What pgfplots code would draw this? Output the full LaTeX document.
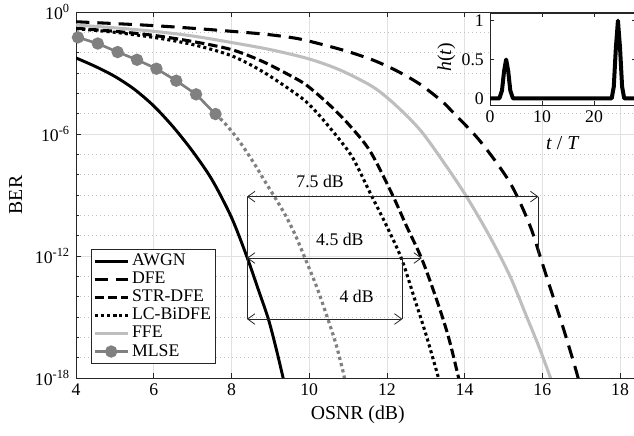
\documentclass[border=0pt]{standalone}
\usepackage{pgfplots}
\pgfplotsset{compat=1.18}
\usepackage{fontspec}
\setmainfont{Liberation Serif}
\usetikzlibrary{arrows.meta}

\definecolor{axgray}{RGB}{38,38,38}
\definecolor{gridgray}{RGB}{225,225,225}
\definecolor{mingray}{RGB}{195,195,195}
\definecolor{mlsegray}{RGB}{128,128,128}
\definecolor{ffegray}{RGB}{190,190,190}

% BER values are stored as log10(BER)
\begin{document}
\fontsize{13.3}{16}\selectfont
\begin{tikzpicture}
\begin{axis}[
    name=main,
    scale only axis, width=422.6pt, height=274.5pt,
    xmin=4, xmax=18.5, ymin=-18, ymax=0,
    xtick={4,6,...,18},
    xticklabels={4,6,8,10,12,14,16,18},
    ytick={-18,-12,-6,0},
    yticklabels={10\textsuperscript{-18},10\textsuperscript{-12},10\textsuperscript{-6},10\textsuperscript{0}},
    minor ytick={-17,-16,...,-1},
    tick align=inside,
    major tick length=4pt, minor tick length=2.5pt,
    every tick/.style={axgray, line width=0.5pt},
    axis line style={axgray, line width=0.6pt},
    xmajorgrids, ymajorgrids, yminorgrids,
    major grid style={gridgray, line width=0.5pt},
    minor grid style={mingray, line width=0.5pt, dash pattern=on 0.7pt off 2.3pt},
    xlabel={OSNR (dB)}, ylabel={BER},
    label style={font=\fontsize{14.8}{17}\selectfont},
    xlabel style={at={(axis description cs:0.5,-0.101)}, anchor=center},
    ylabel style={at={(axis description cs:-0.107,0.5)}, anchor=center},
    legend style={at={(axis description cs:0.026,0.039)}, anchor=south west,
        draw=axgray, line width=0.5pt, fill=white, inner sep=1.5pt,
        row sep=-1.2pt, cells={anchor=west}},
    legend image code/.code={\draw[mark repeat=2,mark phase=2,#1]
        plot coordinates {(0pt,0pt) (12.5pt,0pt) (25pt,0pt)};},
]
% AWGN
\addplot[black, line width=2.2pt, smooth] coordinates {
 (4,-2.26) (4.5,-2.68) (5,-3.17) (5.5,-3.8) (6,-4.62) (6.5,-5.65) (7,-6.85)
 (7.5,-8.25) (8,-10.1) (8.4,-12.05) (8.7,-13.7) (8.95,-15.1)
 (9.15,-16.55) (9.33,-18.0) (9.35,-18.2)
};
\addlegendentry{AWGN}
% DFE
\addplot[black, line width=2.3pt, dash pattern=on 10pt off 6pt, smooth] coordinates {
 (4,-0.48) (5,-0.57) (6,-0.67) (7,-0.8) (8,-0.95) (8.9,-1.1) (9.68,-1.3)
 (10.28,-1.57) (10.97,-1.93) (11.65,-2.37) (12.25,-2.89) (12.85,-3.55)
 (13.41,-4.38) (13.71,-4.95) (14.31,-6.15) (14.78,-7.3) (15.17,-8.4)
 (15.47,-9.55) (15.73,-10.75) (15.94,-12.0) (16.2,-13.55) (16.54,-15.55)
 (16.84,-17.45) (16.95,-18.2)
};
\addlegendentry{DFE}
% STR-DFE
\addplot[black, line width=2.3pt, dash pattern=on 7pt off 3pt, smooth] coordinates {
 (4,-0.8) (5,-0.95) (6,-1.15) (7,-1.45) (8,-1.85) (8.82,-2.45) (9.68,-3.3)
 (10,-3.7) (10.54,-4.6) (11.05,-5.6) (11.57,-6.85) (12.12,-8.9) (12.51,-10.55)
 (12.9,-12.15) (13.28,-14.15) (13.58,-15.95) (13.84,-17.95) (13.86,-18.2)
};
\addlegendentry{STR-DFE}
% LC-BiDFE
\addplot[black, line width=2.3pt, dash pattern=on 2.3pt off 2.3pt, smooth] coordinates {
 (4,-0.82) (5,-1.0) (6,-1.25) (7,-1.6) (8,-2.15) (8.82,-2.95) (9.68,-4.05)
 (10,-4.55) (10.36,-5.3) (10.79,-6.3) (11.13,-7.2) (11.57,-8.9) (12,-10.55)
 (12.38,-12.15) (12.72,-14.15) (13.02,-15.95) (13.32,-17.95) (13.34,-18.2)
};
\addlegendentry{LC-BiDFE}
% FFE
\addplot[ffegray, line width=2.3pt, smooth] coordinates {
 (4,-0.64) (5,-0.78) (6,-0.95) (7,-1.18) (8,-1.5) (9,-1.85) (10,-2.31)
 (10.79,-2.85) (11.57,-3.6) (12,-4.2) (12.51,-5.1) (12.94,-6.0) (13.5,-7.5)
 (14.05,-9.08) (14.65,-11.05) (15.17,-13.0) (15.6,-15.0) (15.9,-16.4)
 (16.2,-17.94) (16.23,-18.2)
};
\addlegendentry{FFE}
% MLSE (simulated)
\addplot[mlsegray, line width=2pt, mark=*, mark size=3.6pt,
    mark options={fill=mlsegray, draw=mlsegray}] coordinates {
 (4.05,-1.25) (4.56,-1.55) (5.07,-1.97) (5.57,-2.35) (6.07,-2.79)
 (6.58,-3.38) (7.09,-4.05) (7.59,-5.02)
};
\addlegendentry{MLSE}
% MLSE (extrapolated)
\addplot[mlsegray, line width=2.4pt, dash pattern=on 2.4pt off 2.4pt, smooth, forget plot] coordinates {
 (7.59,-5.02) (7.79,-5.39) (8.05,-5.97) (8.3,-6.62) (8.6,-7.5) (8.9,-8.45)
 (9.16,-9.25) (9.42,-10.1) (9.65,-11.0) (9.87,-12.0) (10.2,-13.55)
 (10.49,-15.15) (10.7,-16.4) (10.88,-17.75) (10.92,-18.2)
};

% gap annotations
\draw[axgray, line width=0.6pt, {Straight Barb[length=5.5pt,width=8pt]}-{Straight Barb[length=5.5pt,width=8pt]}]
  (axis cs:8.4,-9.08) -- (axis cs:15.9,-9.08);
\draw[axgray, line width=0.6pt, {Straight Barb[length=5.5pt,width=8pt]}-{Straight Barb[length=5.5pt,width=8pt]}]
  (axis cs:8.4,-12.1) -- (axis cs:12.9,-12.1);
\draw[axgray, line width=0.6pt, {Straight Barb[length=5.5pt,width=8pt]}-{Straight Barb[length=5.5pt,width=8pt]}]
  (axis cs:8.4,-15.1) -- (axis cs:12.4,-15.1);
\draw[axgray, line width=0.6pt] (axis cs:8.4,-9.08) -- (axis cs:8.4,-15.1);
\draw[axgray, line width=0.6pt] (axis cs:15.9,-9.08) -- (axis cs:15.9,-12.0);
\draw[axgray, line width=0.6pt] (axis cs:12.4,-12.1) -- (axis cs:12.4,-15.1);
\node at (axis cs:10.28,-8.35) {7.5 dB};
\node at (axis cs:10.79,-11.18) {4.5 dB};
\node at (axis cs:11.22,-14.0) {4 dB};

\coordinate (insetsw) at (axis cs:14.654,-4.575);
\coordinate (bbl) at (axis cs:2.044,-20.81);
\coordinate (btr) at (axis cs:18.359,0.59);
\end{axis}

\begin{axis}[
    at={(insetsw)}, anchor=south west,
    scale only axis, width=109.2pt, height=68.8pt,
    xmin=0, xmax=28, ymin=-0.086, ymax=1.095,
    xtick={0,10,20}, xticklabels={0,10,20},
    ytick={0,0.5,1}, yticklabels={0,0.5,1},
    tick align=inside, major tick length=3pt,
    every tick/.style={axgray, line width=0.5pt},
    axis line style={axgray, line width=0.6pt},
    axis background/.style={fill=white},
    xlabel={\textit{t} / \textit{T}}, ylabel={\textit{h}(\textit{t})},
    label style={font=\fontsize{14.8}{17}\selectfont},
    xlabel style={at={(axis description cs:0.5,-0.41)}, anchor=center},
    ylabel style={at={(axis description cs:-0.3,0.52)}, anchor=center},
]
\addplot[black, line width=3pt, line join=round] coordinates {
 (0,0) (1.8,0) (2.3,0.1) (2.7,0.35) (3.1,0.5) (3.5,0.35) (3.9,0.1) (4.4,0)
 (23.4,0) (23.8,0.15) (24.2,0.65) (24.6,1) (25,0.65) (25.4,0.15) (25.8,0) (28,0)
};
\end{axis}

\pgfresetboundingbox
\useasboundingbox (bbl) rectangle (btr);
\end{tikzpicture}
\end{document}
